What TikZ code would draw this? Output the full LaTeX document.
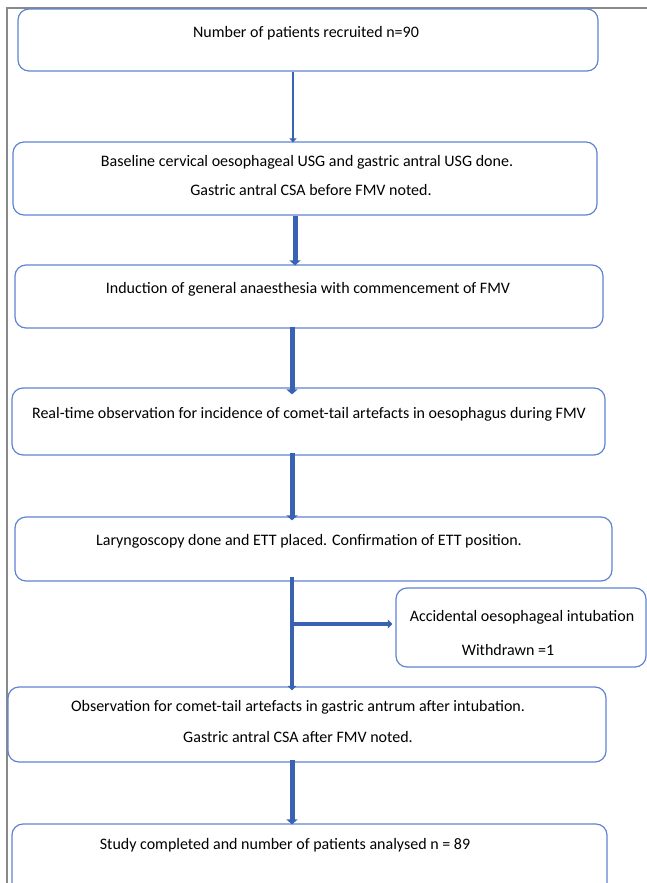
\documentclass[tikz,border=0pt]{standalone}
\usepackage{fontspec}
\setmainfont{Carlito}
\usetikzlibrary{arrows.meta}
\definecolor{boxblue}{HTML}{5F83D2}
\definecolor{arrblue}{HTML}{3A62B2}
\definecolor{framegray}{HTML}{8A8A8A}
\tikzset{
  box/.style={draw=boxblue, line width=1.2pt, rounded corners=11pt, inner sep=0pt},
  txt/.style={inner sep=0pt, font=\fontsize{16}{18}\selectfont, text=black},
  thinarr/.style={draw=arrblue, line width=2.2pt, -{Triangle[width=7pt,length=4pt]}},
  midarr/.style={draw=arrblue, line width=3.2pt, -{Triangle[width=8.5pt,length=4.5pt]}},
  thickarr/.style={draw=arrblue, line width=5pt, -{Triangle[width=11pt,length=5pt]}},
}
\begin{document}
\begin{tikzpicture}[x=1pt,y=-1pt]
\useasboundingbox (0,0) rectangle (647,883);
% frame
\draw[framegray, line width=2pt] (647,8) -- (7,8) -- (7,883);
% boxes
\node[box, minimum width=580pt, minimum height=62pt] (b1) at (308,40) {};
\node[box, minimum width=584pt, minimum height=73pt] (b2) at (305,178.5) {};
\node[box, minimum width=588pt, minimum height=63pt] (b3) at (309,296.5) {};
\node[box, minimum width=593pt, minimum height=67pt] (b4) at (308.5,421.5) {};
\node[box, minimum width=597pt, minimum height=64pt] (b5) at (313.5,549) {};
\node[box, minimum width=250pt, minimum height=79pt] (side) at (521,627.5) {};
\node[box, minimum width=598pt, minimum height=75pt] (b6) at (307,724.5) {};
\node[box, minimum width=595pt, minimum height=72pt] (b7) at (309.5,860) {};
% texts
\node[txt] (t1) at (306,33) {Number of patients recruited n=90};
\node[txt] (t2a) at (307,162) {Baseline cervical oesophageal USG and gastric antral USG done.};
\node[txt] (t2b) at (311,190) {Gastric antral CSA before FMV noted.};
\node[txt] (t3) at (308,289) {Induction of general anaesthesia with commencement of FMV};
\node[txt] (t4) at (309,414) {Real-time observation for incidence of comet-tail artefacts in oesophagus during FMV};
\node[txt] (t5) at (309,541) {Laryngoscopy done and ETT placed. Confirmation of ETT position.};
\node[txt] (s1) at (522,617) {Accidental oesophageal intubation};
\node[txt] (s2) at (508,650) {Withdrawn =1};
\node[txt] (t6a) at (298,707) {Observation for comet-tail artefacts in gastric antrum after intubation.};
\node[txt] (t6b) at (298,737) {Gastric antral CSA after FMV noted.};
\node[txt] (t7) at (285,845) {Study completed and number of patients analysed n = 89};
% arrow columns
\coordinate (c1) at (293,0);
\coordinate (c2) at (295,0);
\coordinate (c3) at (292,0);
\coordinate (br) at (292,624);
\draw[thinarr] (b1.south -| c1) -- ([yshift=-1pt]b2.north -| c1);
\draw[thickarr] (b2.south -| c2) -- ([yshift=-1pt]b3.north -| c2);
\draw[thickarr] ([yshift=2pt]b3.south -| c3) -- ([yshift=-7pt]b4.north -| c3);
\draw[thickarr] ([yshift=3pt]b4.south -| c3) -- ([yshift=-4pt]b5.north -| c3);
\draw[midarr] ([yshift=5pt]b5.south -| c3) -- ([yshift=-4pt]b6.north -| c3);
\draw[midarr] ([xshift=-1.6pt]br) -- ([xshift=-3pt]side.west |- br);
\draw[thickarr] ([yshift=3pt]b6.south -| c3) -- ([yshift=-1pt]b7.north -| c3);
\end{tikzpicture}
\end{document}
